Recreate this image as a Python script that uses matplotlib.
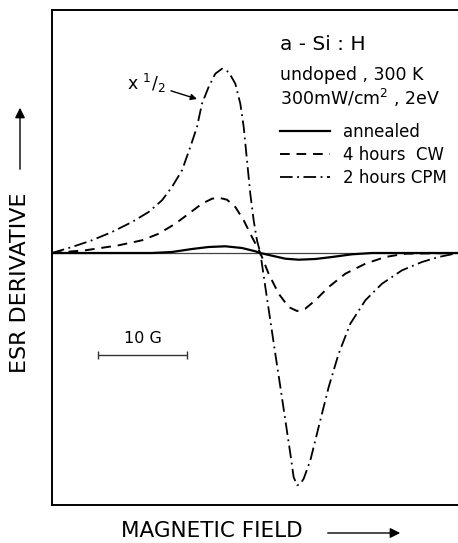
import numpy as np
import matplotlib
matplotlib.use("Agg")
import matplotlib.pyplot as plt
from matplotlib.patches import FancyArrowPatch

# field in gauss (arbitrary origin), signal in arbitrary units (CPM curve shown x 1/2)
cpm_x = [0, 2.25, 4.49, 6.74, 8.99, 10.86, 12.36, 13.48, 14.61, 15.54, 16.29, 16.85,
         17.60, 18.35, 19.10, 19.85, 20.60, 21.16, 21.54, 21.91, 22.28, 22.66, 23.03,
         23.41, 23.97, 24.53, 25.09, 25.66, 26.22, 26.78, 27.15, 27.53, 27.90, 28.28,
         29.03, 29.96, 31.09, 32.21, 33.52, 35.21, 37.08, 39.33, 41.57, 43.45, 45.62]
cpm_y = [0, 0.6, 1.27, 2.1, 3.1, 4.1, 5.27, 6.6, 8.27, 10.6, 12.6, 14.93,
         16.6, 17.93, 18.43, 18.1, 16.93, 14.93, 12.6, 9.27, 5.93, 3.27, 1.27,
         0, -3.4, -6.73, -10.07, -13.4, -16.73, -20.07, -22.4, -23.23, -23.1, -22.57,
         -20.73, -17.4, -13.4, -10.07, -7.07, -4.73, -3.07, -1.73, -0.9, -0.4, 0]

cw_x = [0, 3.75, 7.49, 10.11, 11.99, 13.86, 15.36, 16.85, 17.98, 18.73, 19.66, 20.60,
        21.54, 22.47, 23.41, 24.34, 25.47, 26.59, 27.53, 28.46, 29.59, 31.09, 32.96,
        35.21, 37.45, 39.70, 45.62]
cw_y = [0, 0.27, 0.77, 1.27, 1.93, 2.93, 3.93, 4.93, 5.43, 5.53, 5.33, 4.6,
        3.27, 1.6, 0, -2.07, -4.07, -5.4, -5.8, -5.57, -4.73, -3.4, -2.07,
        -1.07, -0.4, -0.07, 0]

ann_x = [0, 11.24, 13.48, 15.73, 17.60, 19.48, 21.35, 22.85, 23.41, 24.72, 26.22, 27.72,
         29.59, 31.46, 33.71, 35.96, 45.62]
ann_y = [0, 0, 0.1, 0.4, 0.6, 0.67, 0.5, 0.17, 0, -0.27, -0.57, -0.67,
         -0.6, -0.4, -0.13, 0, 0]

labels = ["annealed", "4 hours  CW", "2 hours CPM"]
header = ["a - Si : H", "undoped , 300 K", "300mW/cm$^{2}$ , 2eV"]

plt.rcParams['font.family'] = ['DejaVu Sans']

fig = plt.figure(figsize=(4.58, 5.43), dpi=100)
ax = fig.add_axes([52/458, 38/543, 1 - 52/458, 495/543])

ax.axhline(0, color='#444444', lw=0.9)
ax.plot(ann_x, ann_y, color='black', lw=1.6, ls='-', label=labels[0], solid_joinstyle='round')
ax.plot(cw_x, cw_y, color='black', lw=1.4, ls=(0, (5, 3.5)), label=labels[1])
ax.plot(cpm_x, cpm_y, color='black', lw=1.3, ls=(0, (7, 2.5, 1, 2.5)), label=labels[2])

ax.set_xlim(0, 45.62)
ax.set_ylim(-25.2, 24.3)
ax.set_xticks([])
ax.set_yticks([])
for s in ['left', 'top', 'bottom']:
    ax.spines[s].set_linewidth(1.4)
ax.spines['right'].set_visible(False)

# header text
ax.text(25.6, 20.8, header[0], fontsize=14.5, va='center', ha='left')
ax.text(25.6, 17.8, header[1], fontsize=12.5, va='center', ha='left')
ax.text(25.6, 15.5, header[2], fontsize=12.5, va='center', ha='left')

leg = ax.legend(loc='upper left', bbox_to_anchor=(0.5616, 0.772), frameon=False,
                fontsize=12, handlelength=3.0, handletextpad=0.75, labelspacing=0.3,
                borderpad=0, borderaxespad=0)

# x 1/2 annotation
ax.annotate("x $^{1}$/$_{2}$", xy=(16.29, 15.4), xytext=(8.4, 17.0), fontsize=12.5,
            va='center', ha='left',
            arrowprops=dict(arrowstyle='-|>', color='black', lw=1.0,
                            shrinkA=2, shrinkB=0, mutation_scale=9))

# 10 G scale bar
ax.errorbar([5.17 + 5], [-10.2], xerr=[5], color='#333333', lw=1.0, capsize=3, capthick=1.0)
ax.text(10.17, -9.3, "10 G", fontsize=11.5, ha='center', va='bottom')

# axis labels with arrows
fig.text(20/458, 1 - 283/543, "ESR DERIVATIVE", rotation=90, fontsize=16,
         ha='center', va='center')
fig.add_artist(FancyArrowPatch((20/458, 1 - 172/543), (20/458, 1 - 105/543),
               transform=fig.transFigure, arrowstyle='-|>', mutation_scale=15, lw=1.0, color='black'))
fig.text(212/458, 1 - 531/543, "MAGNETIC FIELD", fontsize=15.5, ha='center', va='center')
fig.add_artist(FancyArrowPatch((325/458, 1 - 533/543), (403/458, 1 - 533/543),
               transform=fig.transFigure, arrowstyle='-|>', mutation_scale=15, lw=1.0, color='black'))

fig.savefig("out.png", dpi=100)
